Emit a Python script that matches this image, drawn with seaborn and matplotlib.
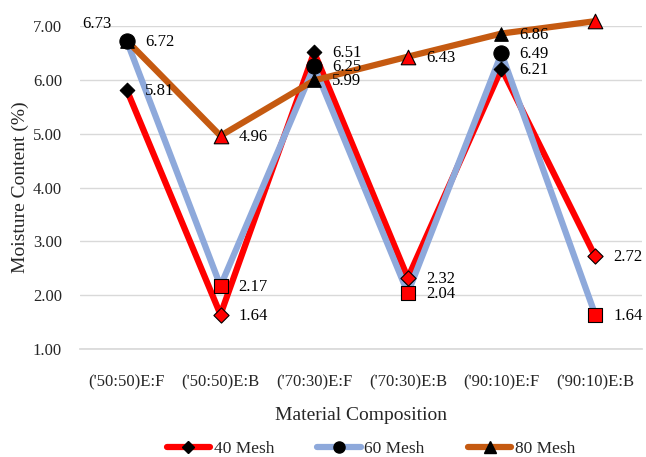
import numpy as np
import pandas as pd
import matplotlib
matplotlib.use("Agg")
import matplotlib.pyplot as plt
from matplotlib.lines import Line2D
import seaborn as sns

categories = ["('50:50)E:F", "('50:50)E:B", "('70:30)E:F", "('70:30)E:B", "('90:10)E:F", "('90:10)E:B"]
mesh40 = [5.81, 1.64, 6.51, 2.32, 6.21, 2.72]
mesh60 = [6.72, 2.17, 6.25, 2.04, 6.49, 1.64]
mesh80 = [6.73, 4.96, 5.99, 6.43, 6.86, 7.09]
series_names = ["40 Mesh", "60 Mesh", "80 Mesh"]
yticks = [1, 2, 3, 4, 5, 6, 7]

sns.set_theme(style="white")
plt.rcParams['font.family'] = ['Liberation Serif', 'DejaVu Serif']

fig = plt.figure(figsize=(6.46, 4.57), dpi=100)
ax = fig.add_axes([80/646, 1-349/457, (642-80)/646, (349-26)/457])

x = np.arange(len(categories))
kinds = ['E:F' if c.endswith('E:F') else 'E:B' for c in categories]
colors = ['#FF0000', '#8EA9DB', '#C55A11']
series = [mesh40, mesh60, mesh80]
marker_ef = ['D', 'o', '^']
marker_eb = ['D', 's', '^']
msize_ef = [55, 120, 95]
msize_eb = [60, 110, 110]

for yv, col, name, mef, meb, sef, seb in zip(series, colors, series_names, marker_ef, marker_eb, msize_ef, msize_eb):
    df = pd.DataFrame({'x': x, 'y': yv, 'kind': kinds})
    sns.lineplot(data=df, x='x', y='y', color=col, lw=4.5, ax=ax, legend=False, clip_on=False, zorder=2)
    ef = df[df.kind == 'E:F']
    eb = df[df.kind == 'E:B']
    sns.scatterplot(data=ef, x='x', y='y', marker=mef, s=sef, color='black', edgecolor='black',
                    linewidth=0.8, ax=ax, legend=False, clip_on=False, zorder=3)
    sns.scatterplot(data=eb, x='x', y='y', marker=meb, s=seb, color='#FF0000', edgecolor='black',
                    linewidth=0.8, ax=ax, legend=False, clip_on=False, zorder=3)

# data labels
for yv in series:
    for xi, v in zip(x, yv):
        if v == 6.73:
            ax.annotate(f"{v:.2f}", (xi, v), xytext=(-30, 17), textcoords='offset pixels',
                        ha='center', va='center', fontsize=12, color='#000000')
        else:
            ax.annotate(f"{v:.2f}", (xi, v), xytext=(18, -1), textcoords='offset pixels',
                        ha='left', va='center', fontsize=12, color='#000000')

ax.set_xlim(-0.5, 5.5)
ax.set_ylim(1, 7)
ax.set_yticks(yticks)
ax.set_yticklabels([f"{t:.2f}" for t in yticks], fontsize=12)
ax.set_xticks(x)
ax.set_xticklabels(categories, fontsize=12)
ax.tick_params(axis='both', length=0)
ax.tick_params(axis='y', pad=13)
ax.tick_params(axis='x', pad=18)
ax.yaxis.grid(True, color='#D9D9D9', lw=1)
ax.set_axisbelow(True)
for s in ['top', 'right', 'left']:
    ax.spines[s].set_visible(False)
ax.spines['bottom'].set_color('#D9D9D9')
ax.set_xlabel("Material Composition", fontsize=14, labelpad=12)
ax.set_ylabel("Moisture Content (%)", fontsize=14, labelpad=3)

handles = [Line2D([0], [0], color=c, lw=4.5, marker=m, markersize=ms, markerfacecolor='black',
                  markeredgecolor='black') for c, m, ms in zip(colors, ['D', 'o', '^'], [6, 8, 8])]
fig.legend(handles, series_names, loc='center', bbox_to_anchor=(371/646, 1-449/457), ncol=3,
           frameon=False, fontsize=12.5, handlelength=2.5, columnspacing=2.5, handletextpad=0.2)

fig.savefig("out.png", dpi=100)
